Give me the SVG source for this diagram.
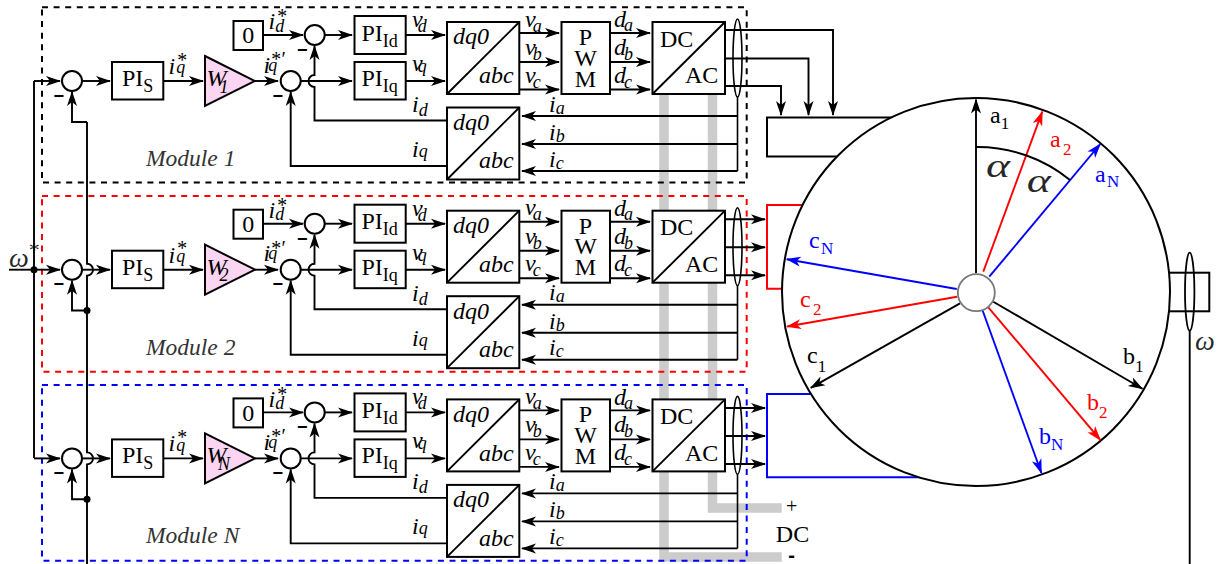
<svg xmlns="http://www.w3.org/2000/svg" width="1225" height="564" viewBox="0 0 1225 564">
<style>
text{font-family:"Liberation Serif","Times New Roman",serif;fill:#000}
.i{font-style:italic}.m{text-anchor:middle}
.f24{font-size:24px}.f18{font-size:18px}.f17{font-size:17px}.f20{font-size:20px}.f22{font-size:22px}
.mod{font-size:23.5px;font-style:italic;fill:#333}
.minus{font-family:"Liberation Sans",sans-serif;font-size:18px;font-weight:bold;text-anchor:middle}
.b{fill:#fff;stroke:#000;stroke-width:2}
.d{fill:none;stroke:#000;stroke-width:1.6}
.l{fill:none;stroke:#000;stroke-width:1.9}
.a{marker-end:url(#k)}
.dash{fill:none;stroke-width:2;stroke-dasharray:6 5.6}
.gray{fill:none;stroke:#ccc;stroke-width:9.5}
.tri{fill:#fcd5f2;stroke:#000;stroke-width:2}
.r{fill:#f00}.bl{fill:#00f}
</style>
<defs>
<marker id="k" markerUnits="userSpaceOnUse" markerWidth="16" markerHeight="12" refX="14" refY="5" orient="auto" overflow="visible"><path d="M0,0 L15,5 L0,10 L4,5 Z" fill="#000"/></marker>
<marker id="kr" markerUnits="userSpaceOnUse" markerWidth="16" markerHeight="12" refX="14" refY="5" orient="auto" overflow="visible"><path d="M0,0 L15,5 L0,10 L4,5 Z" fill="#f00"/></marker>
<marker id="kb" markerUnits="userSpaceOnUse" markerWidth="16" markerHeight="12" refX="14" refY="5" orient="auto" overflow="visible"><path d="M0,0 L15,5 L0,10 L4,5 Z" fill="#00f"/></marker>
</defs>

<g id="dc-bus">
<path class="gray" d="M664,94 V557 H781.7"/>
<path class="gray" d="M712.5,94 V508 H781.7"/>
</g>
<g id="module-frames">
<rect class="dash" stroke="#000" x="42" y="7.3" width="704.7" height="175.2"/>
<rect class="dash" stroke="#f00" x="42" y="196" width="704.7" height="175.7"/>
<rect class="dash" stroke="#00f" x="42" y="385" width="704.7" height="175.7"/>
</g>

<g id="connectors">
<g id="global-lines">
<path class="l" d="M34,81 V458"/>
<path class="l" d="M87,122 V263.7 A6,6 0 0 1 87,275.7 V452.4 A6,6 0 0 1 87,464.4 V564"/>
<path class="l a" d="M87,122 H72 V92"/>
</g>
<g id="lines-1">
<path class="l a" d="M34,81 H60"/>
<path class="l a" d="M82,81 H110"/>
<path class="l a" d="M163,81 H203"/>
<path class="l a" d="M255,81 H278"/>
<path class="l a" d="M263,35 H303"/>
<path class="l a" d="M324.7,35 H352"/>
<path class="l a" d="M300.7,81 H352"/>
<path class="l a" d="M447,120.5 H314.5 V87 A6,6 0 0 1 314.5,75 V46"/>
<path class="l a" d="M447,166 H290.7 V92"/>
<path class="l a" d="M405.7,35 H445"/>
<path class="l a" d="M405.7,81 H445"/>
<path class="l a" d="M519,33 H559"/>
<path class="l a" d="M519,62 H559"/>
<path class="l a" d="M519,89.5 H559"/>
<path class="l a" d="M610,33 H650"/>
<path class="l a" d="M610,62 H650"/>
<path class="l a" d="M610,89.5 H650"/>
<path class="l a" d="M725,30 H833 V115"/>
<path class="l a" d="M725,58.5 H808.5 V115"/>
<path class="l a" d="M725,86 H781 V115"/>
<path class="d" d="M737.5,97 V171"/>
<path class="l a" d="M737.5,116 H522"/>
<path class="l a" d="M737.5,144 H522"/>
<path class="l a" d="M737.5,171 H522"/>
</g>
<g id="lines-2" transform="translate(0 188.7)">
<path class="l" d="M9,81 H34"/>
<path class="l a" d="M34,81 H60"/>
<path class="l a" d="M82,81 H110"/>
<path class="l a" d="M87,121.8 H72 V92"/>
<path class="l a" d="M163,81 H203"/>
<path class="l a" d="M255,81 H278"/>
<path class="l a" d="M263,35 H303"/>
<path class="l a" d="M324.7,35 H352"/>
<path class="l a" d="M300.7,81 H352"/>
<path class="l a" d="M447,120.5 H314.5 V87 A6,6 0 0 1 314.5,75 V46"/>
<path class="l a" d="M447,166 H290.7 V92"/>
<path class="l a" d="M405.7,35 H445"/>
<path class="l a" d="M405.7,81 H445"/>
<path class="l a" d="M519,33 H559"/>
<path class="l a" d="M519,62 H559"/>
<path class="l a" d="M519,89.5 H559"/>
<path class="l a" d="M610,33 H650"/>
<path class="l a" d="M610,62 H650"/>
<path class="l a" d="M610,89.5 H650"/>
<path class="l a" d="M725,30.6 H765"/>
<path class="l a" d="M725,58.6 H765"/>
<path class="l a" d="M725,86.6 H765"/>
<path class="d" d="M737.5,97 V171"/>
<path class="l a" d="M737.5,116 H522"/>
<path class="l a" d="M737.5,144 H522"/>
<path class="l a" d="M737.5,171 H522"/>
</g>
<g id="lines-n" transform="translate(0 377.4)">
<path class="l a" d="M34,81 H60"/>
<path class="l a" d="M82,81 H110"/>
<path class="l a" d="M87,121.8 H72 V92"/>
<path class="l a" d="M163,81 H203"/>
<path class="l a" d="M255,81 H278"/>
<path class="l a" d="M263,35 H303"/>
<path class="l a" d="M324.7,35 H352"/>
<path class="l a" d="M300.7,81 H352"/>
<path class="l a" d="M447,120.5 H314.5 V87 A6,6 0 0 1 314.5,75 V46"/>
<path class="l a" d="M447,166 H290.7 V92"/>
<path class="l a" d="M405.7,35 H445"/>
<path class="l a" d="M405.7,81 H445"/>
<path class="l a" d="M519,33 H559"/>
<path class="l a" d="M519,62 H559"/>
<path class="l a" d="M519,89.5 H559"/>
<path class="l a" d="M610,33 H650"/>
<path class="l a" d="M610,62 H650"/>
<path class="l a" d="M610,89.5 H650"/>
<path class="l a" d="M725,30.6 H765"/>
<path class="l a" d="M725,58.6 H765"/>
<path class="l a" d="M725,86.6 H765"/>
<path class="d" d="M737.5,97 V171"/>
<path class="l a" d="M737.5,116 H522"/>
<path class="l a" d="M737.5,144 H522"/>
<path class="l a" d="M737.5,171 H522"/>
</g>
</g>

<g id="junctions">
<circle cx="34" cy="269.7" r="3.5"/>
<circle cx="87" cy="310.5" r="3.5"/>
<circle cx="87" cy="499.2" r="3.5"/>
</g>
<g id="omega-ref"><text x="9" y="267" class="i" font-size="28" fill-opacity="0.85">ω<tspan class="f22" dx="-1" dy="-10">*</tspan></text></g>

<g id="module-1">
<g id="m1-sum-speed"><circle class="b" cx="72" cy="81" r="10"/><text x="58.8" y="101.7" class="minus">−</text></g>
<g id="m1-pi-s"><rect class="b" x="112" y="62" width="51.3" height="37.5"/><text x="122" y="86" class="f24">PI<tspan class="f18" dy="6">S</tspan></text></g>
<g id="m1-w"><path class="tri" d="M205,56 L255,81 L205,106 Z"/><text x="206.5" y="86" class="i f24">W<tspan class="f18" dx="-7" dy="6.5">1</tspan></text></g>
<g id="m1-zero"><rect class="b" x="233.5" y="21" width="29.5" height="29"/><text x="248.2" y="43.3" class="f24 m">0</text></g>
<g id="m1-sum-d"><circle class="b" cx="314.7" cy="35" r="10"/><text x="302.2" y="56" class="minus">−</text></g>
<g id="m1-sum-q"><circle class="b" cx="290.7" cy="81" r="10"/><text x="277.8" y="101.7" class="minus">−</text></g>
<g id="m1-pi-id"><rect class="b" x="354.5" y="16" width="51.2" height="38"/><text x="361.5" y="40.7" class="f24">PI<tspan class="f18" dy="6">Id</tspan></text></g>
<g id="m1-pi-iq"><rect class="b" x="354.5" y="62" width="51.2" height="37.5"/><text x="361.5" y="86" class="f24">PI<tspan class="f18" dy="6">Iq</tspan></text></g>
<g id="m1-dq0-abc"><rect class="b" x="447" y="22" width="72.3" height="72"/><path class="l" d="M447,94 L519.3,22"/><text x="453" y="44.3" class="i f24">dq0</text><text x="479" y="83.3" class="i f24">abc</text></g>
<g id="m1-pwm"><rect class="b" x="561.5" y="22" width="48.5" height="72"/><text x="585.5" y="45" class="f24 m">P</text><text x="585.5" y="65.7" class="f24 m">W</text><text x="585.5" y="86.7" class="f24 m">M</text></g>
<g id="m1-dcac"><rect class="b" x="652.5" y="22" width="72.5" height="72"/><path class="l" d="M652.5,94 L725,22"/><text x="660" y="46.7" class="f24">DC</text><text x="685" y="83.3" class="f24">AC</text></g>
<g id="m1-ct"><ellipse class="d" cx="737.5" cy="58" rx="4.5" ry="39"/></g>
<g id="m1-abc-dq0"><rect class="b" x="447" y="107.5" width="72.3" height="72"/><path class="l" d="M447,179.5 L519.3,107.5"/><text x="453" y="130" class="i f24">dq0</text><text x="479" y="168.3" class="i f24">abc</text></g>
<g id="m1-labels">
<text x="268.5" y="29.3" class="i f24">i<tspan class="f18" dy="2.5">d</tspan><tspan class="f20" dx="-8" dy="-8.4">*</tspan></text>
<text x="168.5" y="74" class="i f24">i<tspan class="f18" dx="1" dy="-0.6">q</tspan><tspan class="f20" dx="-9" dy="-6.7">*</tspan></text>
<text x="263.5" y="72.5" class="i f24">i<tspan class="f18" dx="-2" dy="-2">q</tspan><tspan class="f20" dx="-7" dy="-4.5">*′</tspan></text>
<text x="412" y="27" class="i f24">v<tspan class="f18" dx="-5" dy="5">d</tspan></text>
<text x="412" y="71" class="i f24">v<tspan class="f18" dx="-5" dy="1">q</tspan></text>
<text x="412" y="112" class="i f24">i<tspan class="f18" dy="4">d</tspan></text>
<text x="412" y="157" class="i f24">i<tspan class="f18">q</tspan></text>
<text x="525" y="26.7" class="i f24">v<tspan class="f18" dx="-3" dy="5">a</tspan></text>
<text x="525" y="55" class="i f24">v<tspan class="f18" dx="-3" dy="5">b</tspan></text>
<text x="525" y="82.7" class="i f24">v<tspan class="f18" dx="-3" dy="5">c</tspan></text>
<text x="614" y="27.3" class="i f24">d<tspan class="f18" dx="-2" dy="4">a</tspan></text>
<text x="614" y="55" class="i f24">d<tspan class="f18" dx="-2" dy="5">b</tspan></text>
<text x="614" y="82.7" class="i f24">d<tspan class="f18" dx="-2" dy="5">c</tspan></text>
<text x="549" y="111.7" class="i f24">i<tspan class="f18" dy="2">a</tspan></text>
<text x="549" y="140" class="i f24">i<tspan class="f18" dy="2">b</tspan></text>
<text x="549" y="166.7" class="i f24">i<tspan class="f18" dy="2">c</tspan></text>
<text x="146" y="166" class="mod">Module 1</text>
</g>
</g>

<g id="module-2" transform="translate(0 188.7)">
<g id="m2-sum-speed"><circle class="b" cx="72" cy="81" r="10"/><text x="58.8" y="101.7" class="minus">−</text></g>
<g id="m2-pi-s"><rect class="b" x="112" y="62" width="51.3" height="37.5"/><text x="122" y="86" class="f24">PI<tspan class="f18" dy="6">S</tspan></text></g>
<g id="m2-w"><path class="tri" d="M205,56 L255,81 L205,106 Z"/><text x="206.5" y="86" class="i f24">W<tspan class="f18" dx="-7" dy="6.5">2</tspan></text></g>
<g id="m2-zero"><rect class="b" x="233.5" y="21" width="29.5" height="29"/><text x="248.2" y="43.3" class="f24 m">0</text></g>
<g id="m2-sum-d"><circle class="b" cx="314.7" cy="35" r="10"/><text x="302.2" y="56" class="minus">−</text></g>
<g id="m2-sum-q"><circle class="b" cx="290.7" cy="81" r="10"/><text x="277.8" y="101.7" class="minus">−</text></g>
<g id="m2-pi-id"><rect class="b" x="354.5" y="16" width="51.2" height="38"/><text x="361.5" y="40.7" class="f24">PI<tspan class="f18" dy="6">Id</tspan></text></g>
<g id="m2-pi-iq"><rect class="b" x="354.5" y="62" width="51.2" height="37.5"/><text x="361.5" y="86" class="f24">PI<tspan class="f18" dy="6">Iq</tspan></text></g>
<g id="m2-dq0-abc"><rect class="b" x="447" y="22" width="72.3" height="72"/><path class="l" d="M447,94 L519.3,22"/><text x="453" y="44.3" class="i f24">dq0</text><text x="479" y="83.3" class="i f24">abc</text></g>
<g id="m2-pwm"><rect class="b" x="561.5" y="22" width="48.5" height="72"/><text x="585.5" y="45" class="f24 m">P</text><text x="585.5" y="65.7" class="f24 m">W</text><text x="585.5" y="86.7" class="f24 m">M</text></g>
<g id="m2-dcac"><rect class="b" x="652.5" y="22" width="72.5" height="72"/><path class="l" d="M652.5,94 L725,22"/><text x="660" y="46.7" class="f24">DC</text><text x="685" y="83.3" class="f24">AC</text></g>
<g id="m2-ct"><ellipse class="d" cx="737.5" cy="58" rx="4.5" ry="39"/></g>
<g id="m2-abc-dq0"><rect class="b" x="447" y="107.5" width="72.3" height="72"/><path class="l" d="M447,179.5 L519.3,107.5"/><text x="453" y="130" class="i f24">dq0</text><text x="479" y="168.3" class="i f24">abc</text></g>
<g id="m2-labels">
<text x="268.5" y="29.3" class="i f24">i<tspan class="f18" dy="2.5">d</tspan><tspan class="f20" dx="-8" dy="-8.4">*</tspan></text>
<text x="168.5" y="74" class="i f24">i<tspan class="f18" dx="1" dy="-0.6">q</tspan><tspan class="f20" dx="-9" dy="-6.7">*</tspan></text>
<text x="263.5" y="72.5" class="i f24">i<tspan class="f18" dx="-2" dy="-2">q</tspan><tspan class="f20" dx="-7" dy="-4.5">*′</tspan></text>
<text x="412" y="27" class="i f24">v<tspan class="f18" dx="-5" dy="5">d</tspan></text>
<text x="412" y="71" class="i f24">v<tspan class="f18" dx="-5" dy="1">q</tspan></text>
<text x="412" y="112" class="i f24">i<tspan class="f18" dy="4">d</tspan></text>
<text x="412" y="157" class="i f24">i<tspan class="f18">q</tspan></text>
<text x="525" y="26.7" class="i f24">v<tspan class="f18" dx="-3" dy="5">a</tspan></text>
<text x="525" y="55" class="i f24">v<tspan class="f18" dx="-3" dy="5">b</tspan></text>
<text x="525" y="82.7" class="i f24">v<tspan class="f18" dx="-3" dy="5">c</tspan></text>
<text x="614" y="27.3" class="i f24">d<tspan class="f18" dx="-2" dy="4">a</tspan></text>
<text x="614" y="55" class="i f24">d<tspan class="f18" dx="-2" dy="5">b</tspan></text>
<text x="614" y="82.7" class="i f24">d<tspan class="f18" dx="-2" dy="5">c</tspan></text>
<text x="549" y="111.7" class="i f24">i<tspan class="f18" dy="2">a</tspan></text>
<text x="549" y="140" class="i f24">i<tspan class="f18" dy="2">b</tspan></text>
<text x="549" y="166.7" class="i f24">i<tspan class="f18" dy="2">c</tspan></text>
<text x="146" y="166" class="mod">Module 2</text>
</g>
</g>

<g id="module-n" transform="translate(0 377.4)">
<g id="mn-sum-speed"><circle class="b" cx="72" cy="81" r="10"/><text x="58.8" y="101.7" class="minus">−</text></g>
<g id="mn-pi-s"><rect class="b" x="112" y="62" width="51.3" height="37.5"/><text x="122" y="86" class="f24">PI<tspan class="f18" dy="6">S</tspan></text></g>
<g id="mn-w"><path class="tri" d="M205,56 L255,81 L205,106 Z"/><text x="206.5" y="86" class="i f24">W<tspan class="f18" dx="-8.5" dy="6.5">N</tspan></text></g>
<g id="mn-zero"><rect class="b" x="233.5" y="21" width="29.5" height="29"/><text x="248.2" y="43.3" class="f24 m">0</text></g>
<g id="mn-sum-d"><circle class="b" cx="314.7" cy="35" r="10"/><text x="302.2" y="56" class="minus">−</text></g>
<g id="mn-sum-q"><circle class="b" cx="290.7" cy="81" r="10"/><text x="277.8" y="101.7" class="minus">−</text></g>
<g id="mn-pi-id"><rect class="b" x="354.5" y="16" width="51.2" height="38"/><text x="361.5" y="40.7" class="f24">PI<tspan class="f18" dy="6">Id</tspan></text></g>
<g id="mn-pi-iq"><rect class="b" x="354.5" y="62" width="51.2" height="37.5"/><text x="361.5" y="86" class="f24">PI<tspan class="f18" dy="6">Iq</tspan></text></g>
<g id="mn-dq0-abc"><rect class="b" x="447" y="22" width="72.3" height="72"/><path class="l" d="M447,94 L519.3,22"/><text x="453" y="44.3" class="i f24">dq0</text><text x="479" y="83.3" class="i f24">abc</text></g>
<g id="mn-pwm"><rect class="b" x="561.5" y="22" width="48.5" height="72"/><text x="585.5" y="45" class="f24 m">P</text><text x="585.5" y="65.7" class="f24 m">W</text><text x="585.5" y="86.7" class="f24 m">M</text></g>
<g id="mn-dcac"><rect class="b" x="652.5" y="22" width="72.5" height="72"/><path class="l" d="M652.5,94 L725,22"/><text x="660" y="46.7" class="f24">DC</text><text x="685" y="83.3" class="f24">AC</text></g>
<g id="mn-ct"><ellipse class="d" cx="737.5" cy="58" rx="4.5" ry="39"/></g>
<g id="mn-abc-dq0"><rect class="b" x="447" y="107.5" width="72.3" height="72"/><path class="l" d="M447,179.5 L519.3,107.5"/><text x="453" y="130" class="i f24">dq0</text><text x="479" y="168.3" class="i f24">abc</text></g>
<g id="mn-labels">
<text x="268.5" y="29.3" class="i f24">i<tspan class="f18" dy="2.5">d</tspan><tspan class="f20" dx="-8" dy="-8.4">*</tspan></text>
<text x="168.5" y="74" class="i f24">i<tspan class="f18" dx="1" dy="-0.6">q</tspan><tspan class="f20" dx="-9" dy="-6.7">*</tspan></text>
<text x="263.5" y="72.5" class="i f24">i<tspan class="f18" dx="-2" dy="-2">q</tspan><tspan class="f20" dx="-7" dy="-4.5">*′</tspan></text>
<text x="412" y="27" class="i f24">v<tspan class="f18" dx="-5" dy="5">d</tspan></text>
<text x="412" y="71" class="i f24">v<tspan class="f18" dx="-5" dy="1">q</tspan></text>
<text x="412" y="112" class="i f24">i<tspan class="f18" dy="4">d</tspan></text>
<text x="412" y="157" class="i f24">i<tspan class="f18">q</tspan></text>
<text x="525" y="26.7" class="i f24">v<tspan class="f18" dx="-3" dy="5">a</tspan></text>
<text x="525" y="55" class="i f24">v<tspan class="f18" dx="-3" dy="5">b</tspan></text>
<text x="525" y="82.7" class="i f24">v<tspan class="f18" dx="-3" dy="5">c</tspan></text>
<text x="614" y="27.3" class="i f24">d<tspan class="f18" dx="-2" dy="4">a</tspan></text>
<text x="614" y="55" class="i f24">d<tspan class="f18" dx="-2" dy="5">b</tspan></text>
<text x="614" y="82.7" class="i f24">d<tspan class="f18" dx="-2" dy="5">c</tspan></text>
<text x="549" y="111.7" class="i f24">i<tspan class="f18" dy="2">a</tspan></text>
<text x="549" y="140" class="i f24">i<tspan class="f18" dy="2">b</tspan></text>
<text x="549" y="166.7" class="i f24">i<tspan class="f18" dy="2">c</tspan></text>
<text x="146" y="166" class="mod">Module N</text>
</g>
</g>

<g id="dc-labels">
<text x="791.7" y="513.3" class="f20 m">+</text>
<text x="792.5" y="541.7" class="f24 m">DC</text>
<text x="791.7" y="561.7" class="minus" style="font-size:20px">-</text>
</g>

<g id="machine">
<path fill="none" stroke="#000" stroke-width="2" d="M900,117.5 H767 V156.5 H900"/>
<path fill="none" stroke="#f00" stroke-width="2" d="M850,205 H767 V288.7 H850"/>
<path fill="none" stroke="#00f" stroke-width="2" d="M850,394 H767 V477.3 H950"/>
<g id="shaft">
<rect x="1150" y="272.7" width="59.3" height="38.6" fill="none" stroke="#000" stroke-width="2"/>
<ellipse cx="1189.7" cy="291.7" rx="4.7" ry="39" fill="none" stroke="#000" stroke-width="1.8"/>
<path class="l" d="M1189.7,331 V564"/>
<text x="1195" y="350" class="i" font-size="28" fill-opacity="0.85">ω</text>
</g>
<circle cx="976" cy="292" r="194" fill="#fff" stroke="#000" stroke-width="2"/>
<g id="windings">
<path class="l a" d="M976,273 V99.5"/>
<path class="l a" d="M993.3,301.7 L1142.4,388.8"/>
<path class="l a" d="M960,303.3 L810.8,387.8"/>
<path fill="none" stroke="#f00" stroke-width="1.9" marker-end="url(#kr)" d="M983.3,271.7 L1042.3,111.7"/>
<path fill="none" stroke="#f00" stroke-width="1.9" marker-end="url(#kr)" d="M988.3,307.3 L1100.3,439.9"/>
<path fill="none" stroke="#f00" stroke-width="1.9" marker-end="url(#kr)" d="M957,296.7 L787,326.5"/>
<path fill="none" stroke="#00f" stroke-width="1.9" marker-end="url(#kb)" d="M989.3,276.7 L1100.3,144"/>
<path fill="none" stroke="#00f" stroke-width="1.9" marker-end="url(#kb)" d="M982.7,310.7 L1041.4,473"/>
<path fill="none" stroke="#00f" stroke-width="1.9" marker-end="url(#kb)" d="M956.7,289 L786.7,259.2"/>
</g>
<path class="l" d="M976,147 A146,146 0 0 1 1070,180"/>
<circle cx="976.3" cy="292.7" r="18.5" fill="#fff" stroke="#777" stroke-width="1.8"/>
<g id="winding-labels">
<text x="990" y="123" class="f24">a<tspan class="f17" dy="6">1</tspan></text>
<text x="1050" y="147" class="f24 r">a<tspan class="f17 r" dx="2.4" dy="8">2</tspan></text>
<text x="1095" y="181.7" class="f24 bl">a<tspan class="f17 bl" dx="1.4" dy="5">N</tspan></text>
<text x="1123" y="364" class="f24">b<tspan class="f17" dy="8">1</tspan></text>
<text x="1087" y="410" class="f24 r">b<tspan class="f17 r" dy="8">2</tspan></text>
<text x="1039" y="444" class="f24 bl">b<tspan class="f17 bl" dy="6">N</tspan></text>
<text x="807" y="363" class="f24">c<tspan class="f17" dy="9">1</tspan></text>
<text x="800" y="307" class="f24 r">c<tspan class="f17 r" dx="2.4" dy="8">2</tspan></text>
<text x="809" y="248" class="f24 bl">c<tspan class="f17 bl" dx="1.4" dy="6">N</tspan></text>
<text x="986" y="177" class="i" font-size="34" textLength="24" lengthAdjust="spacingAndGlyphs" fill-opacity="0.85">α</text>
<text x="1026.7" y="192" class="i" font-size="34" textLength="24" lengthAdjust="spacingAndGlyphs" fill-opacity="0.85">α</text>
</g>
</g>
</svg>
